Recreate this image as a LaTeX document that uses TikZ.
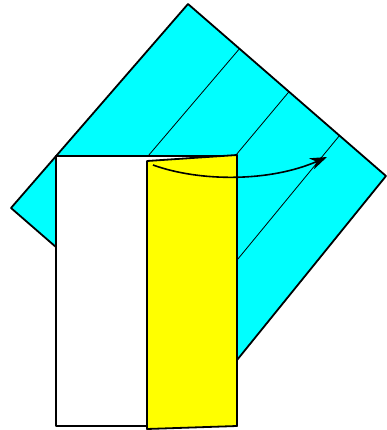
\documentclass[tikz,border=0pt]{standalone}
\usetikzlibrary{arrows.meta,calc}
\definecolor{paper}{HTML}{00FFFF}
\definecolor{flap}{HTML}{FFFF00}
\tikzset{edge/.style={draw=black, line width=1.8pt, line join=round},
  crease/.style={draw=black, line width=0.8pt}}
\begin{document}
\begin{tikzpicture}[x=1pt,y=-1pt]
\useasboundingbox (0,0) rectangle (387,430);
% square seen from above
\coordinate (t) at (188,4);
\coordinate (r) at (386,176);
\coordinate (b) at (216,386);
\coordinate (l) at (11,208);
\draw[edge, fill=paper] (t) -- (r) -- (b) -- (l) -- cycle;
\foreach \k in {0.26,0.51,0.765}
  \draw[crease] ($(t)!\k!(r)$) -- ($(l)!\k!(b)$);
% folded strip
\draw[edge, fill=white] (56,156) rectangle (237,426);
\draw[edge, fill=flap] (147,161) -- (237,155) -- (237,426) -- (147,429) -- cycle;
% turn the flap over
\coordinate (from) at (153,165);
\coordinate (to) at (327,157);
\draw[line width=1.6pt, -{Stealth[length=17pt,width=12pt]}] (from) .. controls (200,182) and (270,182) .. (to);
\end{tikzpicture}
\end{document}
